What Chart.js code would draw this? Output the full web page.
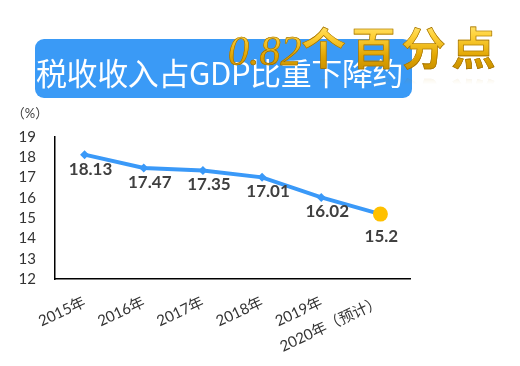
<!DOCTYPE html>
<html>
<head>
<meta charset="utf-8">
<script src="https://cdn.jsdelivr.net/npm/chart.js@4"></script>
<style>
  body { margin: 0; background: #fff; }
  #wrap { position: relative; width: 520px; height: 366px; overflow: hidden; }
  #banner {
    position: absolute; left: 35px; top: 39px; width: 377px; height: 59px;
    background: #3a9af6; border-radius: 9px;
  }
  #bannerText {
    position: absolute; left: 36px; top: 52px; white-space: nowrap;
    font: 31px "Noto Sans CJK SC", sans-serif; letter-spacing: -0.4px; color: #fff;
    line-height: 40px;
  }
  #gold {
    position: absolute; left: 228px; top: 14px; white-space: nowrap; line-height: 50px;
    background: linear-gradient(180deg, #fff3a0 0%, #ffd23a 30%, #e0a400 60%, #b07a00 100%);
    -webkit-background-clip: text; background-clip: text;
    -webkit-text-fill-color: transparent; -webkit-text-stroke: 0.6px #9a6a00;
    -webkit-box-reflect: below -22px linear-gradient(transparent 70%, rgba(255,255,255,0.3));
  }
  #gold .num { font: italic 42px "Liberation Serif", serif; }
  #gold .cjk { font: bold 44px "Noto Sans CJK SC", sans-serif; letter-spacing: 6px; }
</style>
</head>
<body>
<div id="wrap">
  <canvas id="chart" width="520" height="366"></canvas>
  <div id="banner"></div>
  <div id="bannerText">税收收入占GDP比重下降约</div>
  <div id="gold"><span class="num">0.82</span><span class="cjk">个百分点</span></div>
</div>
<script>
const years = ['2015年', '2016年', '2017年', '2018年', '2019年', '2020年（预计）'];
const taxShare = [18.13, 17.47, 17.35, 17.01, 16.02, 15.2];
const yTicks = [12, 13, 14, 15, 16, 17, 18, 19];
const unitLabel = '（%）';

const blue = '#3a99f8';
const gold = '#ffc000';
const last = taxShare.length - 1;

// value labels under each point + the unit text above the y axis
const valueLabels = {
  id: 'valueLabels',
  afterDatasetsDraw(chart) {
    const ctx = chart.ctx;
    const meta = chart.getDatasetMeta(0);
    ctx.save();
    ctx.fillStyle = '#404040';
    ctx.font = 'bold 17px Lato, sans-serif';
    ctx.textAlign = 'center';
    ctx.textBaseline = 'top';
    meta.data.forEach((pt, i) => {
      const dy = i === last ? 14 : 6;
      const dx = i === last ? 1 : 6;
      ctx.fillText(String(taxShare[i]), pt.x + dx, pt.y + dy);
    });
    ctx.font = '13px Lato, "Noto Sans CJK SC", sans-serif';
    ctx.textAlign = 'center';
    ctx.textBaseline = 'middle';
    ctx.fillText(unitLabel, 30, 114);
    ctx.restore();
  }
};

new Chart(document.getElementById('chart'), {
  type: 'line',
  data: {
    labels: years,
    datasets: [{
      data: taxShare,
      borderColor: blue,
      borderWidth: 4,
      pointStyle: taxShare.map((v, i) => i === last ? 'circle' : 'rectRot'),
      pointRadius: taxShare.map((v, i) => i === last ? 7.5 : 4.5),
      pointBackgroundColor: taxShare.map((v, i) => i === last ? gold : blue),
      pointBorderWidth: 0,
      tension: 0
    }]
  },
  options: {
    responsive: false,
    animation: false,
    layout: { padding: { left: 10, top: 137, right: 110, bottom: 0 } },
    plugins: { legend: { display: false }, tooltip: { enabled: false } },
    scales: {
      x: {
        offset: true,
        grid: { display: false },
        border: { display: true, color: '#000', width: 1.5 },
        ticks: {
          minRotation: 25, maxRotation: 25, padding: 6, autoSkip: false,
          color: '#333',
          font: { family: 'Lato, "Noto Sans CJK SC", sans-serif', size: 15 }
        },
        afterFit: s => { s.height = 87; }
      },
      y: {
        min: yTicks[0], max: yTicks[yTicks.length - 1],
        grid: { display: false },
        border: { display: true, color: '#000', width: 1.5 },
        afterBuildTicks: s => { s.ticks = yTicks.map(v => ({ value: v })); },
        ticks: {
          padding: 11, autoSkip: false,
          color: '#333',
          font: { family: 'Lato, sans-serif', size: 15 }
        },
        afterFit: s => { s.width = 45; }
      }
    }
  },
  plugins: [valueLabels]
});
</script>
</body>
</html>
